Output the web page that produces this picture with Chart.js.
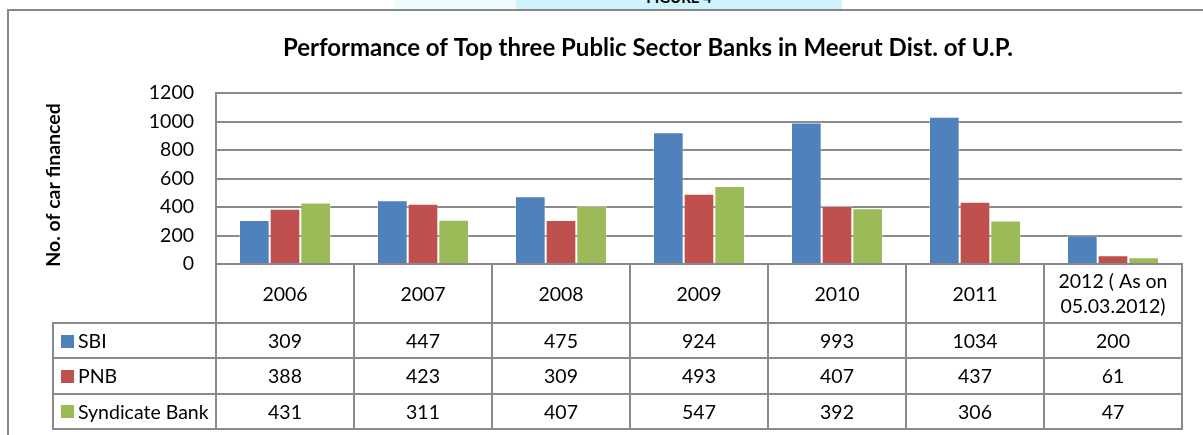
<!DOCTYPE html>
<html>
<head>
<meta charset="utf-8">
<script src="https://cdn.jsdelivr.net/npm/chart.js@4.4.1/dist/chart.umd.min.js"></script>
<style>
  body { margin: 0; background: #fff; overflow: hidden; }
  #page { position: relative; width: 1203px; height: 435px; overflow: hidden; }
  #figPale { position: absolute; left: 395px; top: 0; width: 121px; height: 9px; background: #effcfe; }
  #figTag { position: absolute; left: 516px; top: 0; width: 326px; height: 9px; background: #cdf3fd; overflow: hidden; }
  #figTag span { position: absolute; left: 0; right: 0; top: -12px; text-align: center; font: bold 15px Lato, sans-serif; color: #000; }
  #frame { position: absolute; left: 7px; top: 9px; width: 1300px; height: 500px; border-left: 2px solid #878787; border-top: 2px solid #878787; }
  #wrap { position: absolute; left: 0; top: 0; width: 1203px; height: 435px; }
</style>
</head>
<body>
<div id="page">
  <div id="figPale"></div>
  <div id="figTag"><span>FIGURE 4</span></div>
  <div id="frame"></div>
  <div id="wrap"><canvas id="bankChart"></canvas></div>
</div>
<script>
const years = ['2006', '2007', '2008', '2009', '2010', '2011', ['2012 ( As on', '05.03.2012)']];
const sbi = [309, 447, 475, 924, 993, 1034, 200];
const pnb = [388, 423, 309, 493, 407, 437, 61];
const syndicate = [431, 311, 407, 547, 392, 306, 47];
const yTicks = [0, 200, 400, 600, 800, 1000, 1200];

const colors = {
    sbi: '#4f81bd',
    pnb: '#c0504d',
    syndicate: '#9bbb59',
    line: '#8a8a8a',
};

const font = 'Lato, "Open Sans", sans-serif';
const textSize = 19.5;

// titles drawn by hand, neither sits where Chart.js would centre it
const chartTitles = {
    id: 'chartTitles',
    afterDraw(chart) {
        const { ctx } = chart;
        ctx.save();
        ctx.fillStyle = '#000';
        ctx.textAlign = 'center';
        ctx.textBaseline = 'middle';
        ctx.font = `bold 24px ${font}`;
        ctx.fillText('Performance of Top three Public Sector Banks in Meerut Dist. of U.P.', 648, 48);
        ctx.translate(54, 185);
        ctx.rotate(-Math.PI / 2);
        ctx.font = `bold 19.5px ${font}`;
        ctx.fillText('No. of car financed', 0, 0);
        ctx.restore();
    },
};

// data table under the plot, columns follow the x scale
const dataTable = {
    id: 'dataTable',
    afterDraw(chart) {
        const { ctx, chartArea } = chart;
        const x = chart.scales.x;
        const labels = chart.data.labels;
        const sets = chart.data.datasets;
        const half = (x.getPixelForValue(1) - x.getPixelForValue(0)) / 2;
        const legendLeft = 53;
        const top = chartArea.bottom;
        const headerBottom = top + 59;
        const rowH = 35.3;
        const bottom = headerBottom + rowH * sets.length;
        const right = x.getPixelForValue(labels.length - 1) + half;

        ctx.save();
        ctx.strokeStyle = colors.line;
        ctx.lineWidth = 2;
        ctx.beginPath();
        for (let i = 0; i <= labels.length; i++) {
            const px = Math.round(x.getPixelForValue(0) - half + i * 2 * half);
            ctx.moveTo(px, top);
            ctx.lineTo(px, bottom);
        }
        ctx.moveTo(legendLeft, headerBottom - 1);
        ctx.lineTo(legendLeft, bottom + 1);
        for (let r = 0; r <= sets.length; r++) {
            const py = Math.round(headerBottom + r * rowH);
            ctx.moveTo(legendLeft, py);
            ctx.lineTo(right + 1, py);
        }
        ctx.stroke();

        ctx.fillStyle = '#000';
        ctx.font = `${textSize}px ${font}`;
        ctx.textAlign = 'center';
        ctx.textBaseline = 'middle';
        labels.forEach((label, i) => {
            const cx = x.getPixelForValue(i);
            const lines = Array.isArray(label) ? label : [label];
            const lh = 25;
            const y0 = (top + headerBottom) / 2 - (lines.length - 1) * lh / 2 + 1;
            lines.forEach((t, k) => ctx.fillText(t, cx, y0 + k * lh));
        });

        sets.forEach((ds, r) => {
            const cy = headerBottom + r * rowH + rowH / 2 + 1;
            ctx.fillStyle = ds.backgroundColor;
            ctx.fillRect(61, Math.round(cy - 7), 13, 13);
            ctx.fillStyle = '#000';
            ctx.textAlign = 'left';
            ctx.fillText(ds.label, 78, cy);
            ctx.textAlign = 'center';
            ds.data.forEach((v, i) => ctx.fillText(String(v), x.getPixelForValue(i), cy));
        });
        ctx.restore();
    },
};

new Chart(document.getElementById('bankChart'), {
    type: 'bar',
    data: {
        labels: years,
        datasets: [
            { label: 'SBI', data: sbi, backgroundColor: colors.sbi },
            { label: 'PNB', data: pnb, backgroundColor: colors.pnb },
            { label: 'Syndicate Bank', data: syndicate, backgroundColor: colors.syndicate },
        ],
    },
    options: {
        responsive: true,
        maintainAspectRatio: false,
        animation: false,
        events: [],
        datasets: {
            bar: {
                categoryPercentage: 2 / 3,
                barPercentage: 1,
                borderWidth: 1,
                borderColor: 'rgba(255, 255, 255, 0.35)',
            },
        },
        layout: { padding: { top: 93, right: 21, bottom: 171, left: 0 } },
        plugins: {
            legend: { display: false },
            tooltip: { enabled: false },
        },
        scales: {
            x: {
                grid: { display: false, drawTicks: false },
                border: { color: colors.line, width: 2 },
                ticks: { display: false },
                afterFit: (s) => { s.height = 0; },
            },
            y: {
                min: yTicks[0],
                max: yTicks[yTicks.length - 1],
                afterFit: (s) => { s.width = 216; },
                afterBuildTicks: (s) => { s.ticks = yTicks.map((v) => ({ value: v })); },
                grid: { color: colors.line, lineWidth: 2, drawTicks: false },
                border: { color: colors.line, width: 2 },
                ticks: {
                    padding: 22,
                    color: '#000',
                    font: { family: font, size: textSize },
                    callback: (v) => String(v),
                },
            },
        },
    },
    plugins: [chartTitles, dataTable],
});
</script>
</body>
</html>
